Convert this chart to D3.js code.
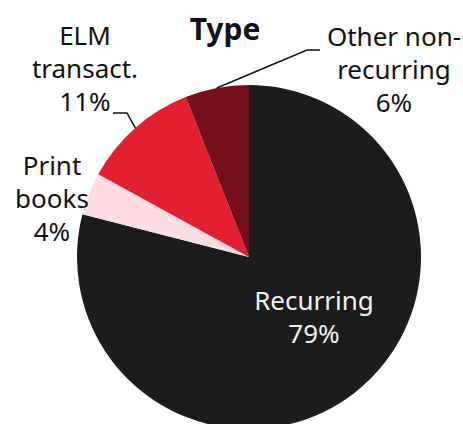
<!DOCTYPE html>
<html>
<head>
<meta charset="utf-8">
<script src="https://d3js.org/d3.v7.min.js"></script>
<style>
  body { margin: 0; background: #fff; }
  text { font-family: "Noto Sans", sans-serif; }
  .lbl { font-size: 26px; fill: #111; text-anchor: middle; }
  .title { font-size: 30px; font-weight: bold; text-anchor: middle; fill: #111; }
  .leader { fill: none; stroke: #111; stroke-width: 1.5; }
</style>
</head>
<body>
<script>
// data, clockwise from 12 o'clock
var categories = ["Recurring", "Print books", "ELM transact.", "Other non-recurring"];
var values = [79, 4, 11, 6];
var labelLines = [["Recurring", "79%"], ["Print", "books", "4%"], ["ELM", "transact.", "11%"], ["Other non-", "recurring", "6%"]];
var colors = ["#1c1c1c", "#fbdde2", "#e22030", "#75101b"];

var W = 463, H = 424;
var cx = 249, cy = 257, r = 172;

var svg = d3.select("body").append("svg")
  .attr("width", W)
  .attr("height", H);

var pie = d3.pie().sort(null).value(d => d);
var arcs = pie(values);
var arc = d3.arc().innerRadius(0).outerRadius(r);

var g = svg.append("g").attr("transform", "translate(" + cx + "," + cy + ")");

g.selectAll("path")
  .data(arcs)
  .enter()
  .append("path")
  .attr("d", arc)
  .attr("fill", (d, i) => colors[i]);

// label placement: x, y of first baseline, leader elbow + end
var labelPos = [
  {x: 314, y: 310, fill: "#f2f2f2"},
  {x: 52, y: 175},
  {x: 85, y: 45, elbow: [127, 113], end: [113, 113]},
  {x: 394, y: 46, elbow: [307, 50], end: [320, 50]}
];
var lineH = 33;

arcs.forEach(function(a, i) {
  var p = labelPos[i];
  var t = svg.append("text")
    .attr("class", "lbl")
    .attr("x", p.x)
    .attr("y", p.y)
    .style("fill", p.fill || "#111");
  labelLines[i].forEach(function(s, j) {
    t.append("tspan").attr("x", p.x).attr("dy", j == 0 ? 0 : lineH).text(s);
  });
  if (p.elbow) {
    var mid = (a.startAngle + a.endAngle) / 2;
    var sx = cx + r * Math.sin(mid), sy = cy - r * Math.cos(mid);
    svg.append("path")
      .attr("class", "leader")
      .attr("d", d3.line()([[sx, sy], p.elbow, p.end]));
  }
});

svg.append("text")
  .attr("class", "title")
  .attr("x", 225)
  .attr("y", 40)
  .text("Type");
</script>
</body>
</html>
